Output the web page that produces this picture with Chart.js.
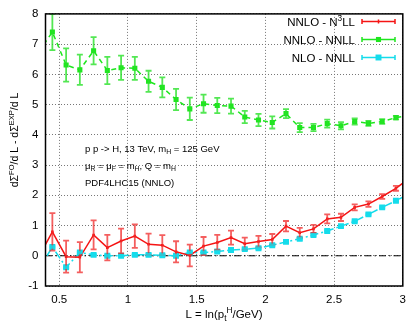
<!DOCTYPE html>
<html>
<head>
<meta charset="utf-8">
<script src="https://cdn.jsdelivr.net/npm/chart.js@4"></script>
<style>
  html, body { margin: 0; padding: 0; background: #fff; }
  #wrap { width: 413px; height: 322px; position: relative; }
</style>
</head>
<body>
<div id="wrap"><canvas id="chart"></canvas></div>
<script>
// bin centres (first and last lie just outside the plotted range, the lines run into the frame)
const binL = [0.35, 0.45, 0.55, 0.65, 0.75, 0.85, 0.95, 1.05, 1.15, 1.25, 1.35, 1.45, 1.55, 1.65,
              1.75, 1.85, 1.95, 2.05, 2.15, 2.25, 2.35, 2.45, 2.55, 2.65, 2.75, 2.85, 2.95, 3.05];

const n3llVals = [-0.04, 0.79, -0.03, -0.05, 0.69, 0.27, 0.49, 0.65, 0.38, 0.35, 0.13, 0.01, 0.32, 0.44,
                  0.60, 0.40, 0.47, 0.54, 0.98, 0.76, 0.89, 1.22, 1.27, 1.60, 1.71, 1.96, 2.23, 2.57];
const n3llErr  = [0, 0.62, 0.53, 0.50, 0.48, 0.42, 0.41, 0.39, 0.35, 0.33, 0.35, 0.36, 0.30, 0.25,
                  0.23, 0.20, 0.19, 0.18, 0.17, 0.16, 0.13, 0.15, 0.12, 0.10, 0.09, 0.08, 0.08, 0];

const nnllVals = [6.74, 7.40, 6.31, 6.15, 6.78, 6.13, 6.22, 6.20, 5.77, 5.57, 5.17, 4.86, 5.03, 4.97,
                  4.95, 4.59, 4.49, 4.41, 4.70, 4.24, 4.24, 4.37, 4.30, 4.44, 4.38, 4.44, 4.57, 4.65];
const nnllErr  = [0, 0.60, 0.55, 0.50, 0.45, 0.45, 0.40, 0.38, 0.35, 0.33, 0.35, 0.37, 0.30, 0.25,
                  0.25, 0.20, 0.20, 0.20, 0.15, 0.15, 0.12, 0.13, 0.12, 0.10, 0.08, 0.08, 0.06, 0];

const nloVals = [-0.45, 0.29, -0.38, 0.11, 0.03, 0.00, 0.00, 0.03, 0.03, 0.02, 0.00, 0.11, 0.11, 0.14,
                 0.19, 0.22, 0.25, 0.35, 0.46, 0.56, 0.69, 0.82, 0.98, 1.14, 1.37, 1.60, 1.82, 2.05];
const nloErr  = [0, 0.03, 0.03, 0.03, 0.03, 0.03, 0.03, 0.03, 0.03, 0.03, 0.03, 0.03, 0.03, 0.03,
                 0.03, 0.03, 0.03, 0.03, 0.03, 0.03, 0.03, 0.03, 0.03, 0.03, 0.03, 0.03, 0.03, 0];

const xTicks = [0.5, 1, 1.5, 2, 2.5, 3];
const yTicks = [-1, 0, 1, 2, 3, 4, 5, 6, 7, 8];

const FONT = "'Liberation Sans', Arial, Helvetica, sans-serif";

const series = [
    { label: [["NNLO - N", 0], ["3", 1], ["LL", 0]], vals: n3llVals, err: n3llErr,
      color: "rgb(245,20,20)", barColor: "rgba(240,40,40,0.75)", dash: [], radius: 1.8 },
    { label: [["NNLO - NNLL", 0]], vals: nnllVals, err: nnllErr,
      color: "rgb(30,230,30)", barColor: "rgba(40,225,40,0.8)", dash: [5, 4], radius: 3.6 },
    { label: [["NLO - NNLL", 0]], vals: nloVals, err: nloErr,
      color: "rgb(20,220,235)", barColor: "rgba(20,220,235,0.8)", dash: [8, 3, 2, 3], radius: 4.2 }
];

// draw text with sub (-1) / superscript (1) parts
function richWidth(ctx, parts, size) {
    let w = 0;
    parts.forEach(([t, m]) => {
        ctx.font = (m ? size * 0.72 : size) + "px " + FONT;
        w += ctx.measureText(t).width;
    });
    return w;
}
function drawRich(ctx, parts, x, y, size, align) {
    let w = richWidth(ctx, parts, size);
    let cx = x;
    if (align === "right") cx = x - w;
    if (align === "center") cx = x - w / 2;
    ctx.textBaseline = "alphabetic";
    ctx.textAlign = "left";
    parts.forEach(([t, m]) => {
        ctx.font = (m ? size * 0.72 : size) + "px " + FONT;
        let dy = m === 1 ? -size * 0.42 : (m === -1 ? size * 0.28 : 0);
        ctx.fillText(t, cx, y + dy);
        cx += ctx.measureText(t).width;
    });
}

const decorPlugin = {
    id: "decor",
    beforeDatasetsDraw(chart) {
        const { ctx, chartArea: a, scales: { y } } = chart;
        const y0 = y.getPixelForValue(0);
        ctx.save();
        ctx.strokeStyle = "#000";
        ctx.lineWidth = 1;
        ctx.setLineDash([7, 3, 1.5, 3]);
        ctx.beginPath();
        ctx.moveTo(a.left, y0);
        ctx.lineTo(a.right, y0);
        ctx.stroke();
        ctx.restore();
    },
    afterDatasetsDraw(chart) {
        const { ctx, chartArea: a, scales: { x, y } } = chart;
        // error bars
        ctx.save();
        ctx.beginPath();
        ctx.rect(a.left, a.top, a.right - a.left, a.bottom - a.top);
        ctx.clip();
        series.forEach(s => {
            ctx.strokeStyle = s.barColor;
            ctx.lineWidth = 1.8;
            s.vals.forEach((v, i) => {
                if (!s.err[i]) return;
                const px = x.getPixelForValue(binL[i]);
                const top = y.getPixelForValue(v + s.err[i]);
                const bot = y.getPixelForValue(v - s.err[i]);
                ctx.beginPath();
                ctx.moveTo(px, top); ctx.lineTo(px, bot);
                ctx.moveTo(px - 3, top); ctx.lineTo(px + 3, top);
                ctx.moveTo(px - 3, bot); ctx.lineTo(px + 3, bot);
                ctx.stroke();
            });
        });
        ctx.restore();

        // frame
        ctx.save();
        ctx.strokeStyle = "#000";
        ctx.lineWidth = 1.5;
        ctx.strokeRect(a.left, a.top, a.right - a.left, a.bottom - a.top);
        ctx.restore();

        // legend
        ctx.save();
        ctx.fillStyle = "#000";
        const rows = [21.5, 39.5, 57.5];
        series.forEach((s, i) => {
            const ry = rows[i];
            drawRich(ctx, s.label, 355, ry + 4, 11.5, "right");
            ctx.strokeStyle = s.color;
            ctx.lineWidth = 1.5;
            ctx.beginPath();
            ctx.moveTo(362, ry); ctx.lineTo(395, ry);
            ctx.moveTo(362, ry - 2.5); ctx.lineTo(362, ry + 2.5);
            ctx.moveTo(395, ry - 2.5); ctx.lineTo(395, ry + 2.5);
            ctx.moveTo(378.5, ry - 2); ctx.lineTo(378.5, ry + 2);
            ctx.stroke();
            if (i > 0) {
                ctx.fillStyle = s.color;
                const h = s.radius * Math.SQRT1_2;
                ctx.fillRect(378.5 - h, ry - h, 2 * h, 2 * h);
                ctx.fillStyle = "#000";
            }
        });

        // annotation
        ctx.fillStyle = "#000";
        drawRich(ctx, [["p p -> H, 13 TeV, m", 0], ["H", -1], [" = 125 GeV", 0]], 85, 151.5, 9.5, "left");
        drawRich(ctx, [["\u03bc", 0], ["R", -1], [" = \u03bc", 0], ["F", -1], [" = m", 0], ["H", -1],
                       [", Q = m", 0], ["H", -1]], 85, 168.5, 9.5, "left");
        drawRich(ctx, [["PDF4LHC15 (NNLO)", 0]], 85, 185.5, 9.5, "left");

        // axis titles
        drawRich(ctx, [["L = ln(p", 0], ["t", -1], ["H", 1], ["/GeV)", 0]], 224, 317.5, 11.5, "center");
        ctx.translate(18, 140);
        ctx.rotate(-Math.PI / 2);
        drawRich(ctx, [["d\u03a3", 0], ["FO", 1], ["/d L - d\u03a3", 0], ["EXP", 1], ["/d L", 0]], 0, 0, 10.5, "center");
        ctx.restore();
    }
};

const datasets = series.map(s => ({
    label: s.label.map(p => p[0]).join(""),
    data: binL.map((l, i) => ({ x: l, y: s.vals[i] })),
    showLine: true,
    borderColor: s.color,
    backgroundColor: s.color,
    borderWidth: 1.5,
    borderDash: s.dash,
    pointStyle: "rect",
    pointRadius: s.radius,
    pointBorderWidth: 0,
    pointHoverRadius: s.radius,
    tension: 0
}));

new Chart(document.getElementById("chart"), {
    type: "scatter",
    data: { datasets: datasets },
    plugins: [decorPlugin],
    options: {
        responsive: true,
        maintainAspectRatio: false,
        animation: false,
        events: [],
        layout: { padding: { left: 0, right: 4, top: 10, bottom: 0 } },
        plugins: { legend: { display: false }, tooltip: { enabled: false } },
        scales: {
            x: {
                type: "linear", min: 0.4, max: 3,
                afterBuildTicks: sc => { sc.ticks = xTicks.map(v => ({ value: v })); },
                afterFit: sc => { sc.height = 36; },
                grid: { color: "#777", lineWidth: 1, drawTicks: false },
                border: { display: false, dash: [1, 2] },
                ticks: { color: "#000", padding: 7, font: { family: FONT, size: 11.5 }, maxRotation: 0,
                         callback: v => String(v) }
            },
            y: {
                type: "linear", min: -1, max: 8,
                afterBuildTicks: sc => { sc.ticks = yTicks.map(v => ({ value: v })); },
                afterFit: sc => { sc.width = 45.5; },
                grid: { color: "#777", lineWidth: 1, drawTicks: false },
                border: { display: false, dash: [1, 2] },
                ticks: { color: "#000", padding: 7, font: { family: FONT, size: 11.5 } }
            }
        }
    }
});
</script>
</body>
</html>
